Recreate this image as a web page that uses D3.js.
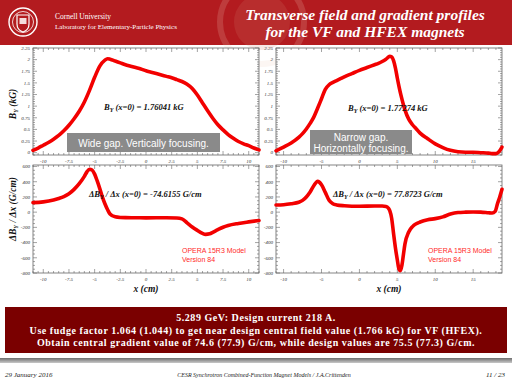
<!DOCTYPE html>
<html>
<head>
<meta charset="utf-8">
<script src="https://cdn.jsdelivr.net/npm/d3@7"></script>
<style>
  body { margin:0; background:#fff; }
  svg text { font-family: "Liberation Serif", "DejaVu Serif", serif; }
</style>
</head>
<body>
<div id="display"></div>
<script>
// ---- data ----
// VF magnet (wide gap), field By (kG) vs x (cm)
const vfX  = [-11,-10.5,-10,-9.5,-9,-8.5,-8,-7.5,-7,-6.5,-6,-5.5,-5,-4.5,-4,-3.75,-3.5,-3,-2.5,-2,-1.5,-1,-0.5,0,0.5,1,1.5,2,2.5,3,3.5,4,4.5,5,5.5,6,6.5,7,7.5,8,8.5,9,9.5,10,10.5,11];
const vfB  = [0.05,0.10,0.16,0.22,0.29,0.37,0.47,0.59,0.73,0.89,1.09,1.34,1.62,1.86,1.99,2.02,2.01,1.97,1.93,1.89,1.86,1.83,1.80,1.76,1.73,1.70,1.67,1.64,1.61,1.57,1.53,1.47,1.38,1.24,1.07,0.90,0.74,0.60,0.49,0.39,0.31,0.24,0.19,0.15,0.10,0.06];
// VF gradient dBy/dx (G/cm)
const vfGX = [-11,-10,-9,-8.5,-8,-7.5,-7,-6.5,-6,-5.75,-5.5,-5.25,-5,-4.75,-4.5,-4.25,-4,-3.75,-3.5,-3,-2.5,-2,-1,0,1,2,3,3.5,4,4.5,5,5.5,5.8,6.2,6.5,7,7.5,8,9,10,11];
const vfG  = [125,135,160,180,205,243,300,375,470,530,565,555,500,410,310,200,110,35,-25,-62,-70,-72,-73,-74.6,-74,-74,-76,-88,-140,-195,-240,-280,-292,-285,-265,-230,-198,-175,-148,-128,-110];
// HFEX magnet (narrow gap), field By (kG)
const hfX  = [-11,-10,-9,-8,-7.5,-7,-6.5,-6,-5.5,-5,-4.5,-4,-3.5,-3,-2.5,-2,-1,0,1,2,2.5,3,3.5,4,4.25,4.5,4.75,5,5.25,5.5,6,6.5,7,7.5,8,9,10,11,12,13,14,15,16,17,17.5,18,18.4,18.8];
const hfB  = [0.04,0.12,0.21,0.33,0.41,0.51,0.63,0.77,0.96,1.16,1.36,1.46,1.51,1.55,1.59,1.63,1.70,1.77,1.83,1.89,1.92,1.96,2.01,2.07,2.06,1.98,1.82,1.60,1.40,1.22,0.92,0.72,0.60,0.51,0.42,0.30,0.19,0.11,0.05,0.02,0.01,0.01,0.0,-0.01,-0.02,-0.02,0.02,0.12];
// HFEX gradient dBy/dx (G/cm)
const hfGX = [-11,-10,-9,-8,-7.5,-7,-6.5,-6,-5.5,-5,-4.5,-4,-3.5,-3,-2,0,2,3,3.5,3.8,4,4.25,4.5,4.75,5,5.2,5.4,5.6,5.8,6,6.5,7,7.5,8,9,10,11,12,13,14,15,16,17,17.5,17.9,18.2,18.5,18.8];
const hfG  = [95,98,110,130,155,200,265,350,405,360,260,155,110,95,85,78,80,80,75,55,20,-80,-280,-470,-630,-745,-770,-700,-560,-420,-262,-190,-152,-130,-100,-85,-62,-25,-5,0,2,0,-8,-12,10,110,200,300];

const yTicksB = [0,0.25,0.5,0.75,1,1.25,1.5,1.75,2,2.25];
const yTickLabelsB = ["0","0.25","0.5","0.75","1","1.25","1.5","1.75","2","2.25"];
const yTicksG = [-800,-600,-400,-200,0,200,400,600];
const xTicksVF = [-10,-7.5,-5,-2.5,0,2.5,5,7.5,10];
const xTicksHF = [-10,-5,0,5,10,15];

const infoLines = [
  "5.289 GeV: Design current 218 A.",
  "Use fudge factor 1.064 (1.044) to get near design central field value (1.766 kG) for VF (HFEX).",
  "Obtain central gradient value of 74.6 (77.9) G/cm, while design values are 75.5 (77.3) G/cm."
];

const W = 512, H = 384;
const svg = d3.select("#display").append("svg").attr("width", W).attr("height", H);

// ---- header band ----
svg.append("rect").attr("x",0).attr("y",0).attr("width",W).attr("height",45).attr("fill","#b31b1f");
// faint seal watermark
const seal = svg.append("g").attr("opacity",0.18);
seal.append("circle").attr("cx",262).attr("cy",22).attr("r",42).attr("fill","none").attr("stroke","#f0d0c0").attr("stroke-width",6);
seal.append("circle").attr("cx",262).attr("cy",22).attr("r",28).attr("fill","#d08070");
// logo
const logo = svg.append("g");
logo.append("circle").attr("cx",23).attr("cy",22).attr("r",14).attr("fill","none").attr("stroke","#fff").attr("stroke-width",1.4);
logo.append("circle").attr("cx",23).attr("cy",22).attr("r",10.5).attr("fill","none").attr("stroke","#fff").attr("stroke-width",0.8);
logo.append("path").attr("d","M17,15 L29,15 L29,24 Q29,30 23,32 Q17,30 17,24 Z").attr("fill","none").attr("stroke","#fff").attr("stroke-width",1.2);
logo.append("rect").attr("x",19.5).attr("y",18).attr("width",7).attr("height",6).attr("fill","#fff").attr("opacity",0.85);
svg.append("text").attr("x",55).attr("y",19).attr("fill","#fff").attr("font-size",7.5).text("Cornell University");
svg.append("text").attr("x",55).attr("y",28.5).attr("fill","#fff").attr("font-size",7).text("Laboratory for Elementary-Particle Physics");
svg.append("text").attr("x",365).attr("y",20).attr("text-anchor","middle").attr("fill","#fff")
  .attr("font-size",15.5).attr("font-weight","bold").attr("font-style","italic").text("Transverse field and gradient profiles");
svg.append("text").attr("x",365).attr("y",37).attr("text-anchor","middle").attr("fill","#fff")
  .attr("font-size",15.5).attr("font-weight","bold").attr("font-style","italic").text("for the VF and HFEX magnets");

// ---- panels ----
function panel(box, xDom, yDom, xTicks, xMinor, yTicks, yMinor, yLabels, xs, ys) {
  const x = d3.scaleLinear().domain(xDom).range([box.x0, box.x1]);
  const y = d3.scaleLinear().domain(yDom).range([box.y1, box.y0]);
  const g = svg.append("g");
  g.append("rect").attr("x",box.x0).attr("y",box.y0).attr("width",box.x1-box.x0).attr("height",box.y1-box.y0)
    .attr("fill","#fff").attr("stroke","#666").attr("stroke-width",0.8);
  const xmin = d3.range(Math.ceil(xDom[0]/xMinor)*xMinor, xDom[1]+1e-9, xMinor);
  const ymin = d3.range(Math.ceil(yDom[0]/yMinor)*yMinor, yDom[1]+1e-9, yMinor);
  const isMaj = (v, arr) => arr.some(t => Math.abs(t - v) < 1e-6);
  const tk = g.append("g").attr("stroke","#666").attr("stroke-width",0.6);
  xmin.forEach(v => {
    const L = isMaj(v, xTicks) ? 4 : 2;
    tk.append("line").attr("x1",x(v)).attr("x2",x(v)).attr("y1",box.y1).attr("y2",box.y1-L);
    tk.append("line").attr("x1",x(v)).attr("x2",x(v)).attr("y1",box.y0).attr("y2",box.y0+L);
  });
  ymin.forEach(v => {
    const L = isMaj(v, yTicks) ? 4 : 2;
    tk.append("line").attr("y1",y(v)).attr("y2",y(v)).attr("x1",box.x0).attr("x2",box.x0+L);
    tk.append("line").attr("y1",y(v)).attr("y2",y(v)).attr("x1",box.x1).attr("x2",box.x1-L);
  });
  xTicks.forEach(v => g.append("text").attr("x",x(v)).attr("y",box.y1+8).attr("text-anchor","middle")
    .attr("font-size",5).attr("font-style","italic").attr("fill","#333").text(String(v)));
  yTicks.forEach((v,i) => g.append("text").attr("x",box.x0-3).attr("y",y(v)+1.8).attr("text-anchor","end")
    .attr("font-size",5).attr("font-style","italic").attr("fill","#333").text(yLabels[i]));
  const line = d3.line().x((d,i) => x(xs[i])).y((d,i) => y(ys[i])).curve(d3.curveMonotoneX);
  g.append("path").datum(xs).attr("d", line).attr("fill","none").attr("stroke","#f20000")
    .attr("stroke-width",3.6).attr("stroke-linejoin","round").attr("stroke-linecap","round");
  return {x, y, g};
}

const boxTL = {x0:33, x1:259, y0:48, y1:155};
const boxTR = {x0:276, x1:502, y0:48, y1:155};
const boxBL = {x0:33, x1:259, y0:165, y1:273};
const boxBR = {x0:276, x1:502, y0:165, y1:273};
const gLabels = yTicksG.map(String);

panel(boxTL, [-11,11], [-0.05,2.25], xTicksVF, 0.5, yTicksB, 0.05, yTickLabelsB, vfX, vfB);
panel(boxTR, [-11,18.8], [-0.05,2.25], xTicksHF, 1, yTicksB, 0.05, yTickLabelsB, hfX, hfB);
panel(boxBL, [-11,11], [-800,620], xTicksVF, 0.5, yTicksG, 50, gLabels, vfGX, vfG);
panel(boxBR, [-11,18.8], [-800,620], xTicksHF, 1, yTicksG, 50, gLabels, hfGX, hfG);

// ---- annotations ----
function bi(x, y, size, anchor) {
  return svg.append("text").attr("x",x).attr("y",y).attr("font-size",size).attr("font-weight","bold")
    .attr("font-style","italic").attr("fill","#111").attr("text-anchor",anchor || "start");
}
let t = bi(104,110,8.5); t.append("tspan").text("B"); t.append("tspan").attr("dy",2).attr("font-size",6).text("Y");
t.append("tspan").attr("dy",-2).text(" (x=0) = 1.76041 kG");
t = bi(348,111,8.5); t.append("tspan").text("B"); t.append("tspan").attr("dy",2).attr("font-size",6).text("Y");
t.append("tspan").attr("dy",-2).text(" (x=0) = 1.77274 kG");
t = bi(89,197,8.5); t.append("tspan").text("\u0394B"); t.append("tspan").attr("dy",2).attr("font-size",6).text("Y");
t.append("tspan").attr("dy",-2).text(" / \u0394x (x=0) = -74.6155 G/cm");
t = bi(333,197,8.5); t.append("tspan").text("\u0394B"); t.append("tspan").attr("dy",2).attr("font-size",6).text("Y");
t.append("tspan").attr("dy",-2).text(" / \u0394x (x=0) = 77.8723 G/cm");

// grey boxes
svg.append("rect").attr("x",67).attr("y",133).attr("width",153).attr("height",19).attr("fill","#8a8a8a");
svg.append("text").attr("x",143.5).attr("y",146.5).attr("text-anchor","middle").attr("fill","#fff")
  .attr("font-size",10).style("font-family","'Liberation Sans', Arial, sans-serif").text("Wide gap. Vertically focusing.");
svg.append("rect").attr("x",310).attr("y",130).attr("width",102).attr("height",24).attr("fill","#8a8a8a");
svg.append("text").attr("x",361).attr("y",140.5).attr("text-anchor","middle").attr("fill","#fff")
  .attr("font-size",10).style("font-family","'Liberation Sans', Arial, sans-serif").text("Narrow gap.");
svg.append("text").attr("x",361).attr("y",151.5).attr("text-anchor","middle").attr("fill","#fff")
  .attr("font-size",10).style("font-family","'Liberation Sans', Arial, sans-serif").text("Horizontally focusing.");

// OPERA labels
[[182,253],[428,253]].forEach(p => {
  svg.append("text").attr("x",p[0]).attr("y",p[1]).attr("fill","#ff2a2a").attr("font-size",7)
    .style("font-family","'Liberation Sans', Arial, sans-serif").text("OPERA 15R3 Model");
  svg.append("text").attr("x",p[0]).attr("y",p[1]+9).attr("fill","#ff2a2a").attr("font-size",7)
    .style("font-family","'Liberation Sans', Arial, sans-serif").text("Version 84");
});

// axis titles
bi(146,292,9.5,"middle").text("x (cm)");
bi(389,292,9.5,"middle").text("x (cm)");
t = svg.append("text").attr("transform","translate(16,104) rotate(-90)").attr("text-anchor","middle")
  .attr("font-size",9.5).attr("font-weight","bold").attr("font-style","italic").attr("fill","#111");
t.append("tspan").text("B"); t.append("tspan").attr("dy",2).attr("font-size",6).text("Y");
t.append("tspan").attr("dy",-2).text(" (kG)");
t = svg.append("text").attr("transform","translate(16,209) rotate(-90)").attr("text-anchor","middle")
  .attr("font-size",9.5).attr("font-weight","bold").attr("font-style","italic").attr("fill","#111");
t.append("tspan").text("\u0394B"); t.append("tspan").attr("dy",2).attr("font-size",6).text("Y");
t.append("tspan").attr("dy",-2).text(" / \u0394x (G/cm)");

// ---- info box ----
svg.append("rect").attr("x",5).attr("y",307).attr("width",502).attr("height",46).attr("fill","#7a0000");
infoLines.forEach((s,i) => svg.append("text").attr("x",256).attr("y",321+i*12.7).attr("text-anchor","middle")
  .attr("fill","#fff").attr("font-size",10).attr("font-weight","bold").attr("letter-spacing",0.55).text(s));

// ---- footer ----
const grad = svg.append("defs").append("linearGradient").attr("id","bar").attr("x1",0).attr("x2",0).attr("y1",0).attr("y2",1);
grad.append("stop").attr("offset","0").attr("stop-color","#6e6e6e");
grad.append("stop").attr("offset","1").attr("stop-color","#c8c8c8");
svg.append("rect").attr("x",0).attr("y",358).attr("width",W).attr("height",5).attr("fill","url(#bar)");
svg.append("text").attr("x",5).attr("y",377).attr("font-size",7).attr("font-style","italic").attr("fill","#222").text("29 January 2016");
svg.append("text").attr("x",264).attr("y",377).attr("text-anchor","middle").attr("font-size",6).attr("font-style","italic")
  .attr("fill","#222").text("CESR Synchrotron Combined-Function Magnet Models / J.A.Crittenden");
svg.append("text").attr("x",505).attr("y",377).attr("text-anchor","end").attr("font-size",7).attr("font-style","italic")
  .attr("fill","#222").text("11 / 23");
</script>
</body>
</html>
